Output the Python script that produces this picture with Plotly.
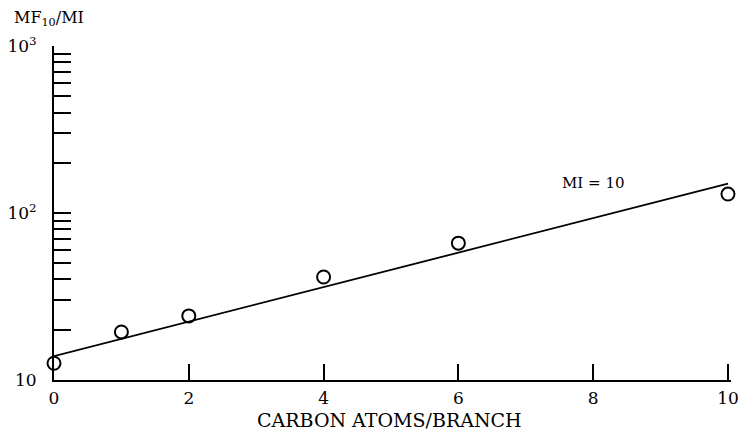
import plotly.graph_objects as go

# Measured ratio MF10/MI against branch length (carbon atoms per branch), MI = 10
carbon_atoms = [0, 1, 2, 4, 6, 10]
mf_ratio = [12.6, 19.4, 24.2, 41.4, 66, 130]

# Fitted straight line on the semi-log plot
fit_x = [0, 10]
fit_y = [13.9, 150]

# Log-axis ticks: labelled decades plus unlabelled intermediate multiples
y_major = [10, 100, 1000]
y_major_text = ["10", "10<sup>2</sup>", "10<sup>3</sup>"]
y_minor = [m * 10 ** d for d in (1, 2) for m in range(2, 10)]
x_tickvals = [0, 2, 4, 6, 8, 10]

serif = "DejaVu Serif"

fig = go.Figure()
fig.add_trace(go.Scatter(
    x=fit_x, y=fit_y, mode="lines",
    line=dict(color="black", width=1.8),
    showlegend=False, cliponaxis=False,
))
fig.add_trace(go.Scatter(
    x=carbon_atoms, y=mf_ratio, mode="markers",
    marker=dict(symbol="circle-open", size=13, color="black",
                line=dict(width=2, color="black")),
    showlegend=False, cliponaxis=False,
))

fig.add_annotation(x=8, y=2.18, xref="x", yref="y", text="MI = 10",
                   showarrow=False, font=dict(family=serif, size=15, color="black"))
fig.add_annotation(x=0.0, y=1.0, xref="paper", yref="paper",
                   xshift=-42, yshift=28, xanchor="left", yanchor="middle",
                   text="MF<sub>10</sub>/MI", showarrow=False,
                   font=dict(family=serif, size=16, color="black"))
fig.add_annotation(x=0.4955, y=0.0, xref="paper", yref="paper",
                   yshift=-40, xanchor="center", yanchor="middle",
                   text="CARBON ATOMS/BRANCH", showarrow=False,
                   font=dict(family=serif, size=19, color="black"))

fig.update_layout(
    width=738, height=437,
    margin=dict(l=54, r=7, t=46, b=57, autoexpand=False),
    paper_bgcolor="white", plot_bgcolor="white",
    font=dict(family=serif, color="black"),
    xaxis=dict(
        range=[0, 10.045], tickvals=x_tickvals, ticktext=[str(v) for v in x_tickvals],
        ticks="inside", ticklen=16, tickwidth=1.5, tickcolor="black",
        showline=True, linecolor="black", linewidth=2, showgrid=False, zeroline=False,
        tickfont=dict(family=serif, size=17, color="black"),
        ticklabelstandoff=2, ticklabeloverflow="allow", automargin=False,
    ),
    yaxis=dict(
        type="log", range=[1, 3.0005], tickvals=y_major, ticktext=y_major_text,
        ticks="inside", ticklen=17, tickwidth=1.5, tickcolor="black",
        minor=dict(tickvals=y_minor, ticks="inside", ticklen=17,
                   tickwidth=1.5, tickcolor="black", showgrid=False),
        showline=True, linecolor="black", linewidth=2, showgrid=False, zeroline=False,
        tickfont=dict(family=serif, size=17, color="black"),
        ticklabelstandoff=12, automargin=False,
    ),
)

fig.write_html("out.html")
